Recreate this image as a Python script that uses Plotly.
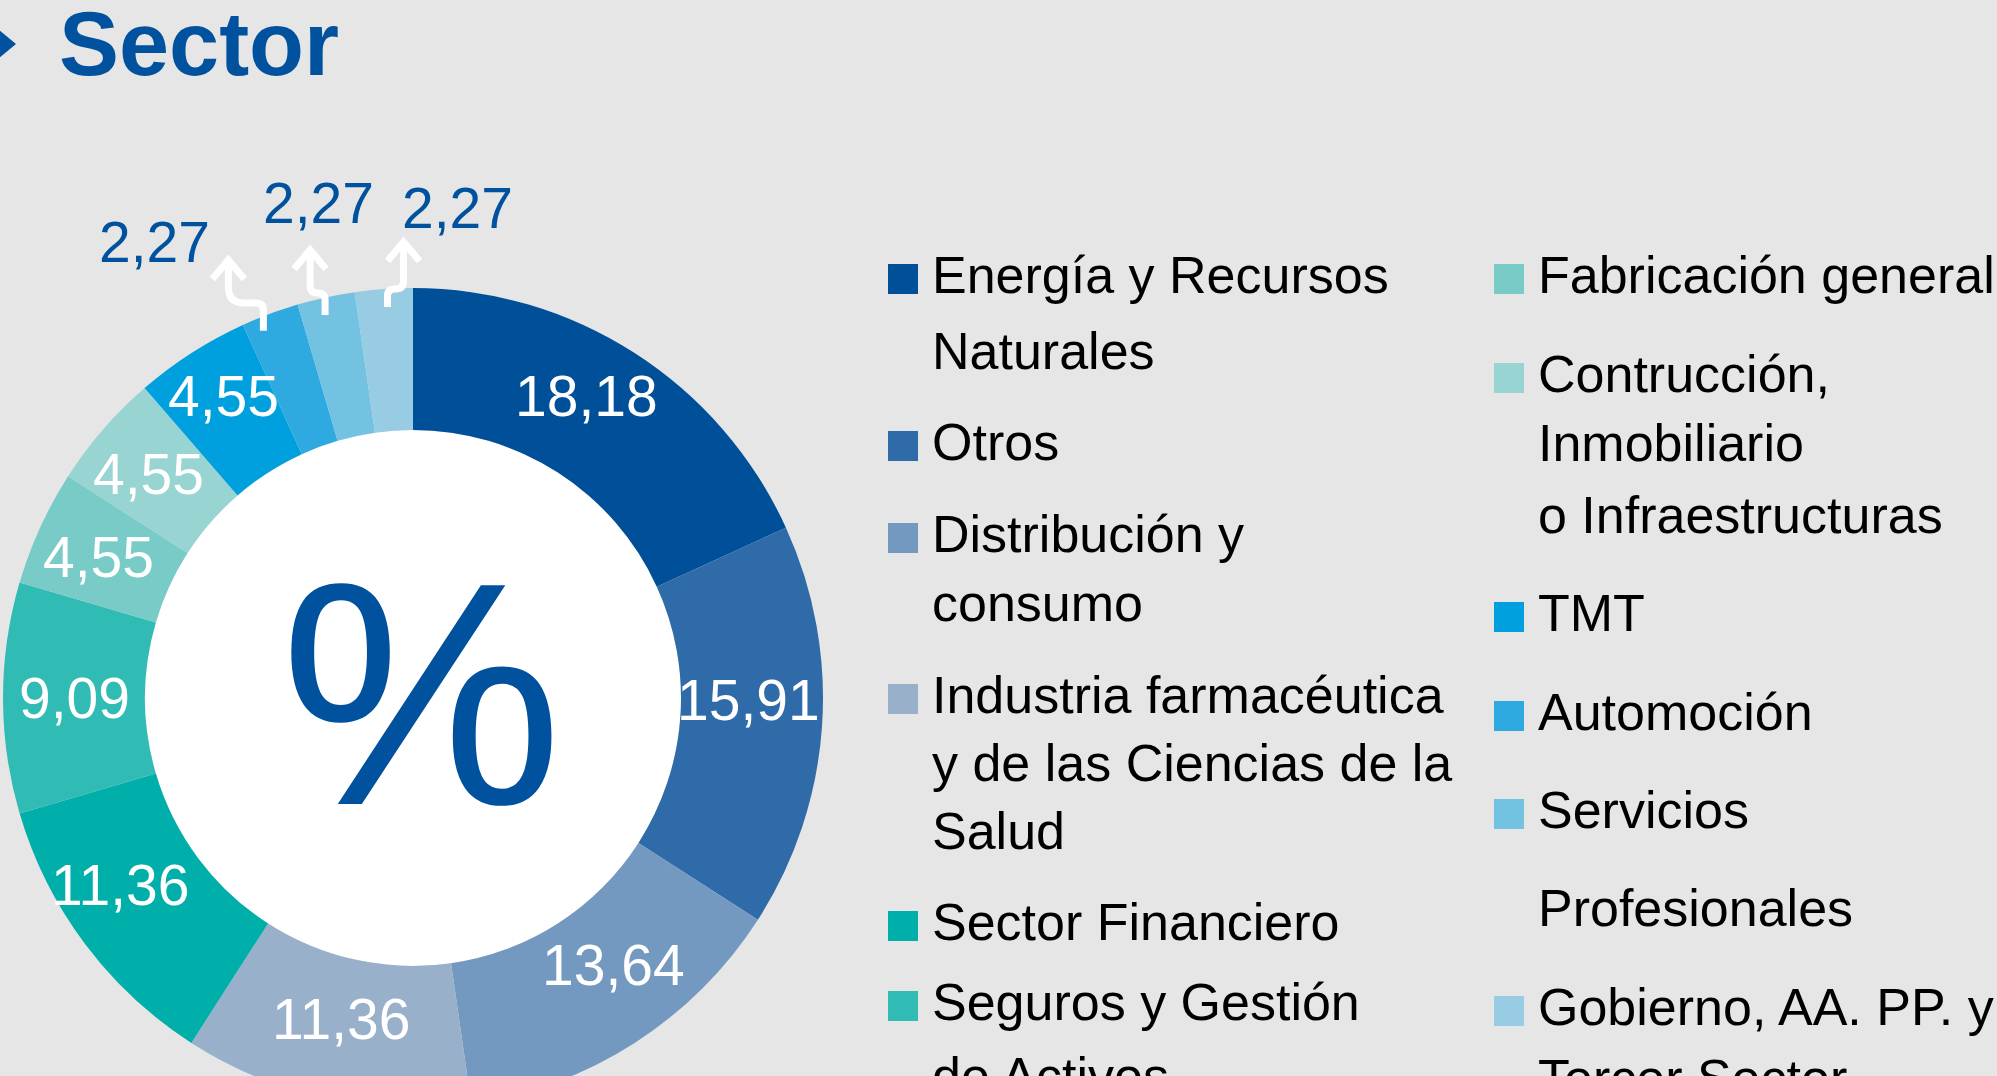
import math
import plotly.graph_objects as go

# ---------------- data ----------------
categories = [
    "Energía y Recursos Naturales",
    "Otros",
    "Distribución y consumo",
    "Industria farmacéutica y de las Ciencias de la Salud",
    "Sector Financiero",
    "Seguros y Gestión de Activos",
    "Fabricación general",
    "Contrucción, Inmobiliario o Infraestructuras",
    "TMT",
    "Automoción",
    "Servicios Profesionales",
    "Gobierno, AA. PP. y Tercer Sector",
]
values = [18.18, 15.91, 13.64, 11.36, 11.36, 9.09, 4.55, 4.55, 4.55, 2.27, 2.27, 2.27]
legend_lines = [
    ["Energía y Recursos", "Naturales"],
    ["Otros"],
    ["Distribución y", "consumo"],
    ["Industria farmacéutica", "y de las Ciencias de la", "Salud"],
    ["Sector Financiero"],
    ["Seguros y Gestión", "de Activos"],
    ["Fabricación general"],
    ["Contrucción,", "Inmobiliario", "o Infraestructuras"],
    ["TMT"],
    ["Automoción"],
    ["Servicios", "Profesionales"],
    ["Gobierno, AA. PP. y", "Tercer Sector"],
]
title_text = "Sector"
center_text = "%"

# ---------------- styles / layout ----------------
colors = ["#004F99", "#2F6BA8", "#7499C0", "#98B0CA", "#00AFAA", "#30BBB5",
          "#78CBC7", "#98D4D1", "#009FDE", "#2FAAE0", "#73C2E2", "#98CCE2"]
BG = "#E6E6E6"
BLUE = "#00519E"
FONT = "Liberation Sans, Arial, sans-serif"

W, H = 1997, 1130          # figure taller than the 1076 window: bottom is cropped like the reference
CX, CY, R_OUT, R_IN = 413, 698, 410, 268

def X(px):
    return px / W

def Y(py):
    return 1 - py / H

# legend layout (pixel positions)
legend_col = [0, 0, 0, 0, 0, 0, 1, 1, 1, 1, 1, 1]
legend_y = [[275, 351], [442], [534, 603], [695, 763, 831], [922], [1002, 1076],
            [275], [374, 443, 515], [613], [712], [810, 908], [1007, 1078]]
col_square_x = [888, 1494]
col_text_x = [930, 1536]
SQ = 30

# inside label nudges (px) for the slices labelled inside
inside_count = 9
label_nudge = [(-10, -17), (-3, -22), (17, -18), (0, -10), (-22, -16), (0, 0),
               (-6, 0), (-8, -2), (-6, -17)]
# outside labels / arrows
out_label_pos = [(154, 242), (318, 203), (457, 208)]
arrow_x_nudge = [-10, -3, 3]
arrow_turn_y = [303, 293, 289]
arrow_shift = [-35, -15, 16]
arrow_tip_y = [260, 250, 242]

def fmt(v):
    return f"{v:.2f}".replace(".", ",")

total = sum(values)
mids = []
acc = 0.0
for v in values:
    mids.append((acc + v / 2) / total * 2 * math.pi)
    acc += v

fig = go.Figure()
fig.add_trace(go.Pie(
    labels=categories, values=values, sort=False, direction="clockwise", rotation=0,
    hole=R_IN / R_OUT, textinfo="none", hoverinfo="label+value",
    marker=dict(colors=colors, line=dict(width=0)),
    domain=dict(x=[X(CX - R_OUT), X(CX + R_OUT)], y=[Y(CY + R_OUT), Y(CY - R_OUT)]),
    showlegend=False,
))

shapes = []
annotations = []

# white hole
shapes.append(dict(type="circle", xref="paper", yref="paper", layer="below",
                   x0=X(CX - R_IN), x1=X(CX + R_IN), y0=Y(CY + R_IN), y1=Y(CY - R_IN),
                   fillcolor="white", line=dict(width=0)))

# title + marker triangle
shapes.append(dict(type="path", xref="paper", yref="paper",
                   path=f"M {X(-2)},{Y(29)} L {X(16)},{Y(44)} L {X(-2)},{Y(59)} Z",
                   fillcolor=BLUE, line=dict(width=0)))
annotations.append(dict(text=f"<b>{title_text}</b>", xref="paper", yref="paper",
                        x=X(57), y=Y(44), xanchor="left", yanchor="middle", showarrow=False,
                        font=dict(family=FONT, size=90, color=BLUE)))

# centre percent sign
annotations.append(dict(text=center_text, xref="paper", yref="paper", x=X(421), y=Y(693),
                        xanchor="center", yanchor="middle", showarrow=False,
                        font=dict(family=FONT, size=318, color=BLUE)))

# inside labels
r_lab = (R_IN + R_OUT) / 2
for i in range(inside_count):
    a = mids[i]
    lx = CX + r_lab * math.sin(a) + label_nudge[i][0]
    ly = CY - r_lab * math.cos(a) + label_nudge[i][1]
    annotations.append(dict(text=fmt(values[i]), xref="paper", yref="paper", x=X(lx), y=Y(ly),
                            xanchor="center", yanchor="middle", showarrow=False,
                            font=dict(family=FONT, size=57, color="white")))

# outside labels with bent white arrows
for k, i in enumerate(range(inside_count, len(values))):
    a = mids[i]
    sx = CX + 400 * math.sin(a) + arrow_x_nudge[k]
    by = CY - 392 * math.cos(a)
    h = arrow_turn_y[k]
    fx = sx + arrow_shift[k]
    tip = arrow_tip_y[k]
    s = 1 if fx > sx else -1
    d = abs(fx - sx)
    r1 = min(7, d / 2)
    r2 = min(16, d / 2)
    p = (f"M {X(sx)},{Y(by)} L {X(sx)},{Y(h + r1)} Q {X(sx)},{Y(h)} {X(sx + s * r1)},{Y(h)} "
         f"L {X(fx - s * r2)},{Y(h)} Q {X(fx)},{Y(h)} {X(fx)},{Y(h - r2)} L {X(fx)},{Y(tip + 2)}")
    shapes.append(dict(type="path", xref="paper", yref="paper", path=p,
                       line=dict(color="white", width=7)))
    head = f"M {X(fx - 16)},{Y(tip + 19)} L {X(fx)},{Y(tip)} L {X(fx + 16)},{Y(tip + 19)}"
    shapes.append(dict(type="path", xref="paper", yref="paper", path=head,
                       line=dict(color="white", width=7)))
    lx, ly = out_label_pos[k]
    annotations.append(dict(text=fmt(values[i]), xref="paper", yref="paper", x=X(lx), y=Y(ly),
                            xanchor="center", yanchor="middle", showarrow=False,
                            font=dict(family=FONT, size=57, color=BLUE)))

# legend (squares + wrapped text)
for i, lines in enumerate(legend_lines):
    c = legend_col[i]
    ys = legend_y[i]
    base = ys[0] + 19
    shapes.append(dict(type="rect", xref="paper", yref="paper",
                       x0=X(col_square_x[c]), x1=X(col_square_x[c] + SQ),
                       y0=Y(base), y1=Y(base - SQ), fillcolor=colors[i], line=dict(width=0)))
    for line, ly in zip(lines, ys):
        annotations.append(dict(text=line, xref="paper", yref="paper",
                                x=X(col_text_x[c]), y=Y(ly), xanchor="left", yanchor="middle",
                                showarrow=False,
                                font=dict(family=FONT, size=52, color="#000000")))

fig.update_layout(
    width=W, height=H, autosize=False,
    margin=dict(l=0, r=0, t=0, b=0, pad=0),
    paper_bgcolor=BG, plot_bgcolor=BG,
    shapes=shapes, annotations=annotations, showlegend=False,
)

fig.write_html(
    "out.html",
    config={"displayModeBar": False},
    post_script=("document.body.style.margin='0';"
                 "document.body.style.overflow='hidden';"
                 "document.documentElement.style.overflow='hidden';"),
)
